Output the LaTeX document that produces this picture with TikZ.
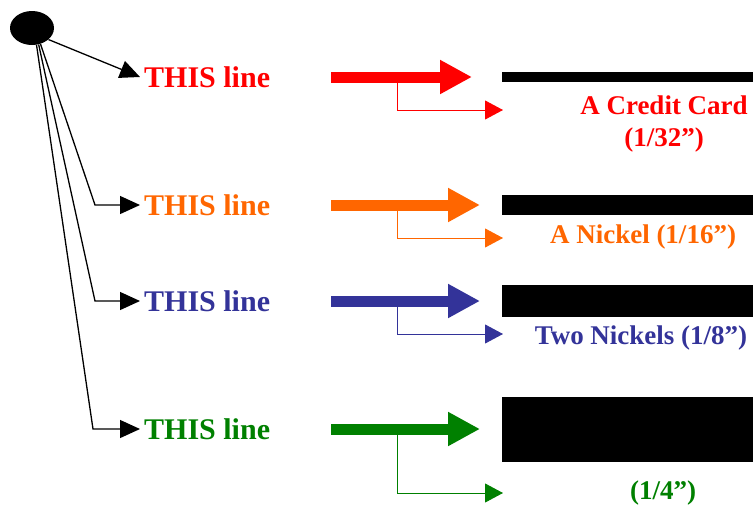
\documentclass[tikz,border=0pt]{standalone}
\usepackage{fontspec}
\setmainfont{Liberation Serif}
\usetikzlibrary{arrows.meta,shapes.geometric}
\definecolor{linered}{RGB}{255,0,0}
\definecolor{lineorange}{RGB}{255,102,0}
\definecolor{lineblue}{RGB}{51,51,153}
\definecolor{linegreen}{RGB}{0,128,0}
\tikzset{
	fanline/.style={black, line width=1.3pt, -{Triangle[length=20pt,width=18pt]}},
	bigarrow/.style={line width=11pt, -{Triangle[length=32pt,width=32pt]}},
	thinarrow/.style={line width=0.9pt, -{Triangle[length=18pt,width=19pt]}},
	thisline/.style={font=\fontsize{30}{32}\selectfont\bfseries, anchor=west, inner sep=4pt},
	sizelabel/.style={font=\fontsize{27}{32}\selectfont\bfseries, align=center, inner sep=0pt},
}
\begin{document}
\begin{tikzpicture}[x=1pt,y=-1pt]
		\useasboundingbox (0,0) rectangle (753,504);
		\node[ellipse, fill=black, minimum width=44pt, minimum height=34pt, inner sep=0pt] (dot) at (32,28) {};
		\node[thisline,linered] (t1) at (140,77) {THIS line};
		\node[thisline,lineorange] (t2) at (140,205) {THIS line};
		\node[thisline,lineblue] (t3) at (140,301) {THIS line};
		\node[thisline,linegreen] (t4) at (140,429) {THIS line};
		\coordinate (b2) at (95,205);
		\coordinate (b3) at (95,301);
		\coordinate (b4) at (93,429);
		\draw[fanline] (dot.-35) -- (t1.west);
		\draw[fanline] (dot.-62) -- (b2) -- (t2.west);
		\draw[fanline] (dot.-68) -- (b3) -- (t3.west);
		\draw[fanline] (dot.-75) -- (b4) -- (t4.west);
		\foreach \n/\col/\y/\tip/\yb/\bt/\bb in {1/linered/77/472/110/72/82, 2/lineorange/205/480/238/195/215, 3/lineblue/301/480/334/285/317, 4/linegreen/429/480/493/397/462}
		{
			\coordinate (s\n) at (331,\y);
			\coordinate (k\n) at (397,\y);
			\coordinate (e\n) at (\tip,\y);
			\coordinate (h\n) at (503,\yb);
			\draw[bigarrow,\col] (s\n) -- (e\n);
			\draw[thinarrow,\col] (k\n) |- (h\n);
			\fill[black] (502,\bt) rectangle (753,\bb);
		}
		\node[sizelabel,linered] (card) at (664,124) {A Credit Card\\(1/32”)};
		\node[sizelabel,lineorange] (nickel) at (643,237) {A Nickel (1/16”)};
		\node[sizelabel,lineblue] (nickels) at (641,338) {Two Nickels (1/8”)};
		\node[sizelabel,linegreen] (quarter) at (663,493) {(1/4”)};
		\end{tikzpicture}
\end{document}
